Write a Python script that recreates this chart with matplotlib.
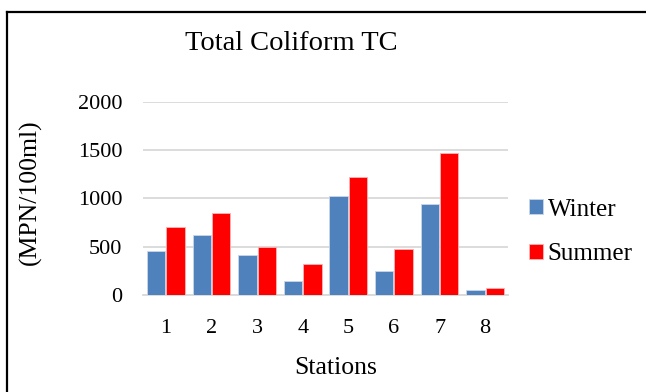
import numpy as np
import matplotlib.pyplot as plt
from matplotlib.lines import Line2D

# Total coliform counts per station (MPN/100ml)
stations = ['1', '2', '3', '4', '5', '6', '7', '8']
winter = [460, 620, 410, 140, 1025, 248, 943, 52]
summer = [700, 850, 497, 324, 1223, 477, 1470, 76]

plt.rcParams['font.family'] = ['Liberation Serif', 'DejaVu Serif']

W, H = 646, 392
fig = plt.figure(figsize=(W/100, H/100), dpi=100)
ax = fig.add_axes([143/W, 1 - 295/H, 365/W, 193/H])

x = np.arange(len(stations))
w = 0.405
ax.bar(x - w/2 - 0.01, winter, w, color='#4f81bd', edgecolor='#c9d6ea',
       linewidth=0.6, label='Winter', zorder=3)
ax.bar(x + w/2 + 0.01, summer, w, color='#ff0000', edgecolor='#ffb3b3',
       linewidth=0.6, label='Summer', zorder=3)

ax.set_xlim(-0.5, len(stations) - 0.5)
ax.set_ylim(0, 2000)
ax.set_yticks([0, 500, 1000, 1500, 2000])
ax.set_xticks(x)
ax.set_xticklabels(stations)
ax.yaxis.grid(True, color='#d9d9d9', linewidth=1.3, zorder=0)
ax.set_axisbelow(True)
for s in ['top', 'right', 'left']:
    ax.spines[s].set_visible(False)
ax.spines['bottom'].set_color('#d9d9d9')
ax.spines['bottom'].set_linewidth(1.3)
ax.tick_params(axis='both', length=0, labelsize=16)
ax.tick_params(axis='x', pad=17)
ax.tick_params(axis='y', pad=15)

# axis titles and chart title placed on the figure
fig.text(336/W, 1 - 368/H, 'Stations', fontsize=18.5, ha='center', va='center')
fig.text(30/W, 1 - 192/H, '(MPN/100ml)', fontsize=18.5, rotation=90,
         ha='center', va='center')
fig.text(291/W, 1 - 43/H, 'Total Coliform TC', fontsize=20.5,
         ha='center', va='center')

ax.legend(loc='center left', bbox_to_anchor=(519/W, 1 - 232/H),
          bbox_transform=fig.transFigure, frameon=False, fontsize=18,
          handlelength=0.55, handleheight=0.55, handletextpad=0.2,
          labelspacing=0.9, borderaxespad=0)

# chart frame
fig.add_artist(Line2D([7/W, 7/W], [0, 1 - 12/H], color='black',
                      linewidth=1.6, transform=fig.transFigure))
fig.add_artist(Line2D([7/W, 1], [1 - 12/H, 1 - 12/H], color='black',
                      linewidth=1.6, transform=fig.transFigure))

fig.savefig('out.png', dpi=100)
